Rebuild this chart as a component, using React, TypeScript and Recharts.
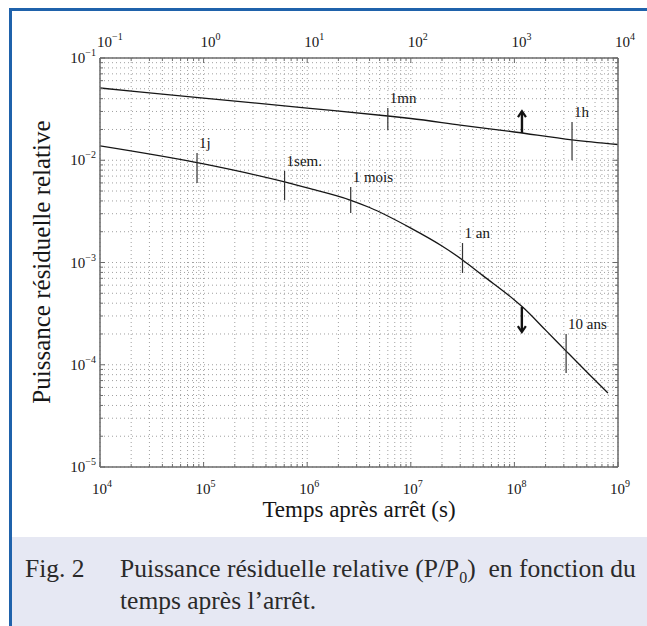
import React from 'react';
import { LineChart, Line, XAxis, YAxis, CartesianGrid, ReferenceLine } from 'recharts';

// axis decades
const bottomDecades = [1e4, 1e5, 1e6, 1e7, 1e8, 1e9];
const topDecades = [1e-1, 1, 1e1, 1e2, 1e3, 1e4];
const yDecades = [1e-5, 1e-4, 1e-3, 1e-2, 1e-1];

// short times (top axis, s)
const shortTime = [0.1, 1, 10, 60, 100, 300, 1000, 3600, 10000];
const shortPower = [0.0509, 0.0406, 0.0324, 0.0271, 0.0256, 0.0221, 0.0189, 0.0158, 0.01425];

// long times (bottom axis, s)
const longTime = [1e4, 1e5, 6.05e5, 1e6, 2.6e6, 4e6, 1e7, 2e7, 3.16e7, 5e7, 1e8, 1.2e8, 2e8, 3.16e8, 5e8, 8e8];
const longPower = [0.0138, 0.0092, 0.00613, 0.00536, 0.00408, 0.00345, 0.00217, 0.00145, 0.00106, 0.00074, 0.00043, 0.000367, 0.000218, 0.000136, 0.000085, 0.000053];

// time marks on the curves
const shortMarks = [
  { t: 60, lo: 0.0198, hi: 0.0324, label: '1mn' },
  { t: 3600, lo: 0.01, hi: 0.0237, label: '1h' },
];
const longMarks = [
  { t: 86400, lo: 0.006, hi: 0.0118, label: '1j' },
  { t: 604800, lo: 0.00408, hi: 0.00785, label: '1sem.' },
  { t: 2.63e6, lo: 0.00305, hi: 0.00547, label: '1 mois' },
  { t: 3.156e7, lo: 0.00079, hi: 0.00155, label: '1 an' },
  { t: 3.156e8, lo: 0.000083, hi: 0.0002, label: '10 ans' },
];

// arrows pointing to the axis each curve belongs to
const upArrow = { t: 1183, from: 0.0185, to: 0.0302 };
const downArrow = { t: 1.18e8, from: 0.000367, to: 0.000209 };

const shortData = shortTime.map((t, i) => ({ t, p: shortPower[i] }));
const longData = longTime.map((t, i) => ({ t, p: longPower[i] }));

const logTicks = (decades: number[]) =>
  decades.flatMap((d, i) =>
    i === decades.length - 1 ? [d] : [1, 2, 3, 4, 5, 6, 7, 8, 9].map((k) => k * d)
  );

const bottomTicks = logTicks(bottomDecades);
const topTicks = logTicks(topDecades);
const yTicks = logTicks(yDecades);

const FONT = '"Liberation Serif", "Times New Roman", serif';
const AXIS = '#6b6b6b';
const INK = '#161616';

const isDecade = (v: number) => Math.abs(Math.log10(v) - Math.round(Math.log10(v))) < 1e-6;
const expText = (v: number) => {
  const n = Math.round(Math.log10(v));
  return n < 0 ? '\u2212' + Math.abs(n) : String(n);
};

const BottomTick = (props: any) => {
  const { x, y, payload } = props;
  const major = isDecade(payload.value);
  return (
    <g>
      <line x1={x} y1={y} x2={x} y2={y - (major ? 5 : 3)} stroke={AXIS} />
      {major && (
        <text x={x - 8} y={y + 27} fontSize={15} fill={INK} fontFamily={FONT}>
          10<tspan dy={-7} fontSize={10}>{expText(payload.value)}</tspan>
        </text>
      )}
    </g>
  );
};

const TopTick = (props: any) => {
  const { x, y, payload } = props;
  const major = isDecade(payload.value);
  return (
    <g>
      <line x1={x} y1={y} x2={x} y2={y + (major ? 5 : 3)} stroke={AXIS} />
      {major && (
        <text x={x - 3} y={y - 11} fontSize={15} fill={INK} fontFamily={FONT}>
          10<tspan dy={-7} fontSize={10}>{expText(payload.value)}</tspan>
        </text>
      )}
    </g>
  );
};

const LeftTick = (props: any) => {
  const { x, y, payload } = props;
  const major = isDecade(payload.value);
  return (
    <g>
      <line x1={x} y1={y} x2={x + (major ? 5 : 3)} y2={y} stroke={AXIS} />
      {major && (
        <text x={x - 4} y={y + 5} fontSize={15} fill={INK} fontFamily={FONT} textAnchor="end">
          10<tspan dy={-7} fontSize={10}>{expText(payload.value)}</tspan>
        </text>
      )}
    </g>
  );
};

const RightTick = (props: any) => {
  const { x, y, payload } = props;
  const major = isDecade(payload.value);
  return <line x1={x} y1={y} x2={x - (major ? 5 : 3)} y2={y} stroke={AXIS} />;
};

const markShape = (label: string) => (p: any) => {
  const top = Math.min(p.y1, p.y2);
  return (
    <g>
      <line x1={p.x1} y1={p.y1} x2={p.x2} y2={p.y2} stroke="#333" strokeWidth={1.2} />
      <text x={p.x1 + 2} y={top - 5} fontSize={15} fill={INK} fontFamily={FONT}>
        {label}
      </text>
    </g>
  );
};

const arrowShape = (p: any) => {
  const dir = p.y2 < p.y1 ? -1 : 1;
  return (
    <g>
      <line x1={p.x1} y1={p.y1} x2={p.x2} y2={p.y2 - dir * 1} stroke="#111" strokeWidth={2.4} />
      <polyline
        points={`${p.x2 - 4},${p.y2 - dir * 6} ${p.x2},${p.y2} ${p.x2 + 4},${p.y2 - dir * 6}`}
        fill="none"
        stroke="#111"
        strokeWidth={2.2}
      />
    </g>
  );
};

export default function App() {
  return (
    <div
      style={{
        position: 'absolute',
        left: 0,
        top: 0,
        width: 647,
        height: 626,
        background: '#fff',
        overflow: 'hidden',
        fontFamily: FONT,
        color: INK,
      }}
    >
      <div style={{ position: 'absolute', left: 9, top: 8, width: 638, height: 3, background: '#1f62ab' }} />
      <div style={{ position: 'absolute', left: 9, top: 8, width: 3, height: 618, background: '#1f62ab' }} />
      <div style={{ position: 'absolute', left: 12, top: 537, width: 635, height: 89, background: '#e6e8f3' }} />

      <div style={{ position: 'absolute', left: 0, top: 0 }}>
        <LineChart width={647} height={626} margin={{ top: 57, right: 28, bottom: 158, left: 99 }}>
          <CartesianGrid xAxisId="b" yAxisId="l" stroke="#a0a0a0" strokeDasharray="1 3" strokeWidth={1} />
          <XAxis
            xAxisId="b"
            dataKey="t"
            type="number"
            scale="log"
            domain={[1e4, 1e9]}
            allowDataOverflow
            ticks={bottomTicks}
            interval={0}
            height={1}
            tickSize={0}
            tickMargin={0}
            tickLine={false}
            tick={<BottomTick />}
            axisLine={{ stroke: AXIS, strokeWidth: 1.5 }}
          />
          <XAxis
            xAxisId="t"
            orientation="top"
            dataKey="t"
            type="number"
            scale="log"
            domain={[0.1, 1e4]}
            allowDataOverflow
            ticks={topTicks}
            interval={0}
            height={1}
            tickSize={0}
            tickMargin={0}
            tickLine={false}
            tick={<TopTick />}
            axisLine={{ stroke: AXIS, strokeWidth: 1.5 }}
          />
          <YAxis
            yAxisId="l"
            type="number"
            scale="log"
            domain={[1e-5, 1e-1]}
            allowDataOverflow
            ticks={yTicks}
            interval={0}
            width={1}
            tickSize={0}
            tickMargin={0}
            tickLine={false}
            tick={<LeftTick />}
            axisLine={{ stroke: AXIS, strokeWidth: 1.5 }}
          />
          <YAxis
            yAxisId="r"
            orientation="right"
            type="number"
            scale="log"
            domain={[1e-5, 1e-1]}
            allowDataOverflow
            ticks={yTicks}
            interval={0}
            width={1}
            tickSize={0}
            tickMargin={0}
            tickLine={false}
            tick={<RightTick />}
            axisLine={{ stroke: AXIS, strokeWidth: 1.5 }}
          />
          <Line
            data={shortData}
            xAxisId="t"
            yAxisId="l"
            dataKey="p"
            type="monotone"
            stroke={INK}
            strokeWidth={1.3}
            dot={false}
            isAnimationActive={false}
          />
          <Line
            data={longData}
            xAxisId="b"
            yAxisId="l"
            dataKey="p"
            type="monotone"
            stroke={INK}
            strokeWidth={1.3}
            dot={false}
            isAnimationActive={false}
          />
          {shortMarks.map((m) => (
            <ReferenceLine
              key={m.label}
              xAxisId="t"
              yAxisId="l"
              segment={[{ x: m.t, y: m.lo }, { x: m.t, y: m.hi }]}
              shape={markShape(m.label)}
            />
          ))}
          {longMarks.map((m) => (
            <ReferenceLine
              key={m.label}
              xAxisId="b"
              yAxisId="l"
              segment={[{ x: m.t, y: m.lo }, { x: m.t, y: m.hi }]}
              shape={markShape(m.label)}
            />
          ))}
          <ReferenceLine
            xAxisId="t"
            yAxisId="l"
            segment={[{ x: upArrow.t, y: upArrow.from }, { x: upArrow.t, y: upArrow.to }]}
            shape={arrowShape}
          />
          <ReferenceLine
            xAxisId="b"
            yAxisId="l"
            segment={[{ x: downArrow.t, y: downArrow.from }, { x: downArrow.t, y: downArrow.to }]}
            shape={arrowShape}
          />
        </LineChart>
      </div>

      <div
        style={{
          position: 'absolute',
          left: 100,
          top: 497,
          width: 518,
          textAlign: 'center',
          fontSize: 23,
          lineHeight: '26px',
        }}
      >
        Temps après arrêt (s)
      </div>
      <div
        style={{
          position: 'absolute',
          left: 42 - 200,
          top: 262 - 14,
          width: 400,
          height: 28,
          textAlign: 'center',
          fontSize: 25,
          lineHeight: '28px',
          transform: 'rotate(-90deg)',
        }}
      >
        Puissance résiduelle relative
      </div>

      <div style={{ position: 'absolute', left: 25, top: 553, fontSize: 25.5, lineHeight: '32px', color: '#2a2a2a' }}>
        Fig. 2
      </div>
      <div
        style={{
          position: 'absolute',
          left: 120,
          top: 553,
          width: 527,
          fontSize: 25.5,
          lineHeight: '32px',
          color: '#2a2a2a',
          whiteSpace: 'nowrap',
        }}
      >
        Puissance résiduelle relative (P/P<sub style={{ fontSize: 16, lineHeight: 0 }}>0</sub>)&nbsp; en fonction du
        <br />
        temps après l’arrêt.
      </div>
    </div>
  );
}
